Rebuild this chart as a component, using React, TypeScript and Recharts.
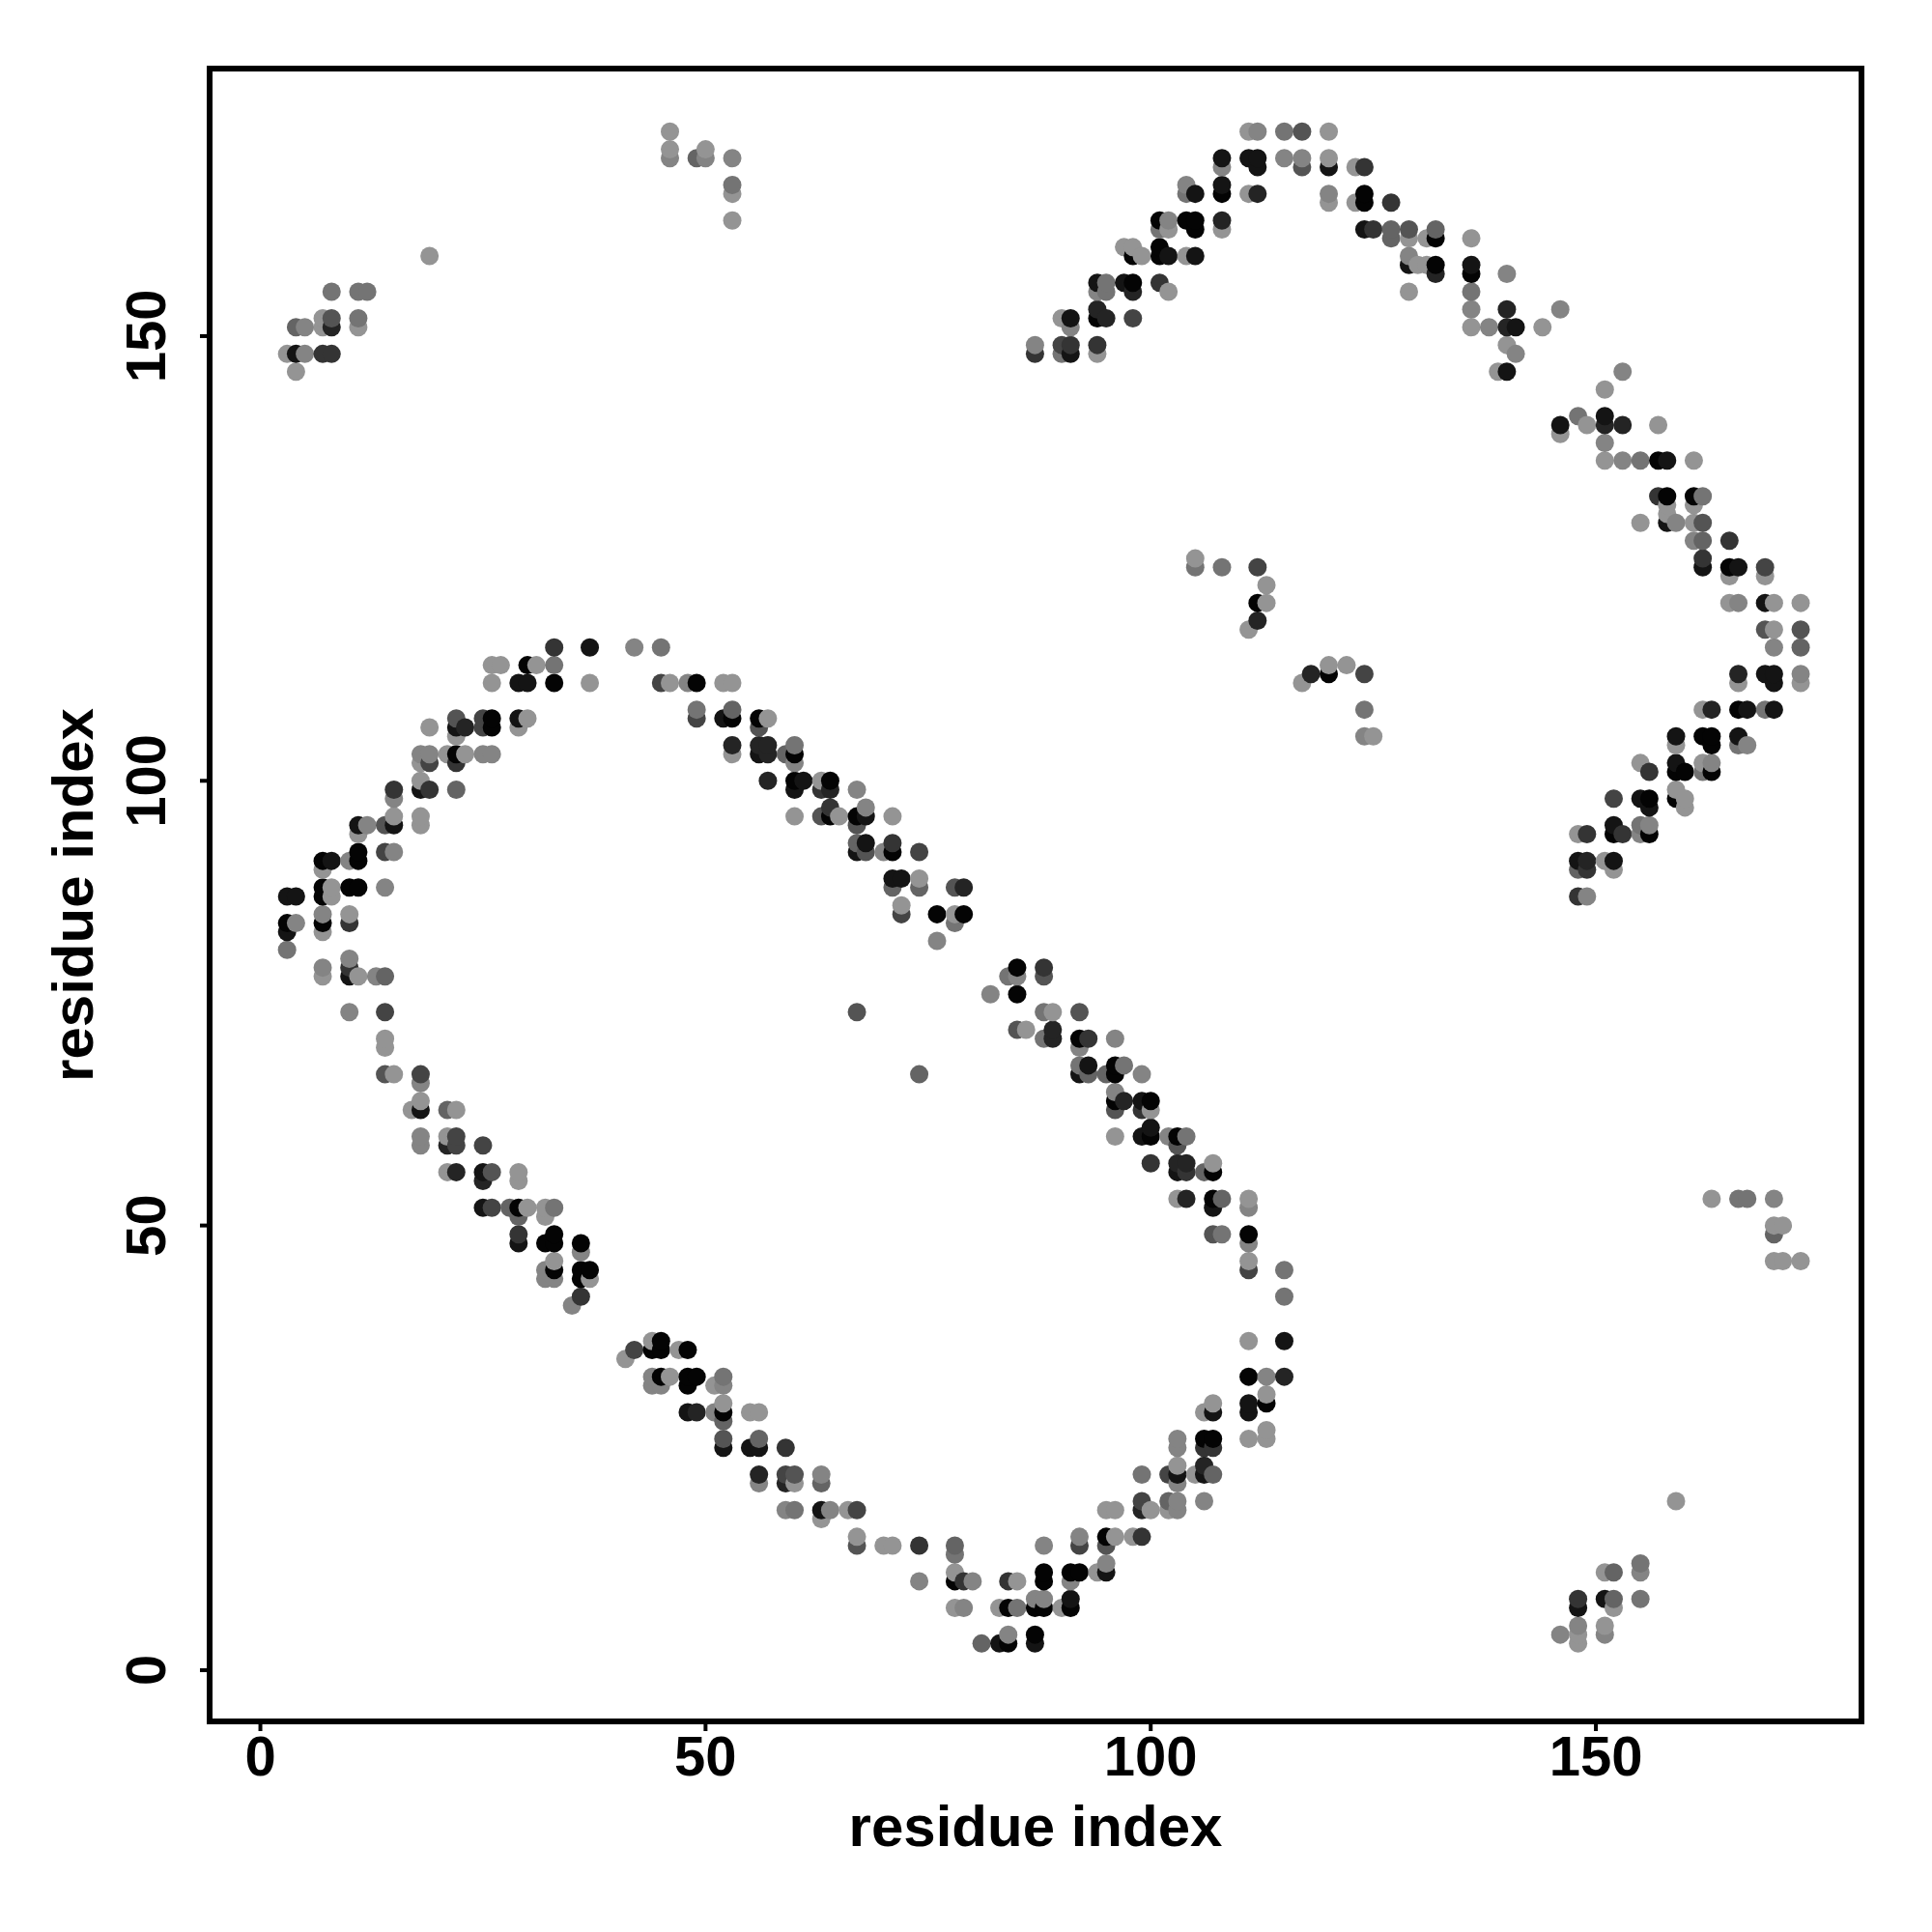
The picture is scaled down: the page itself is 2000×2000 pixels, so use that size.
import { ScatterChart, Scatter, XAxis, YAxis, ReferenceArea } from 'recharts';

// residue contacts as [i, j, score], score 0 (weak) to 9 (strong)
type Contact = [number, number, number];

const axisTicks = [0, 50, 100, 150];
const xDomain = [-5.7, 179.83];
const yDomain = [-5.76, 180.08];

const topLeftArc: Contact[] = [
  [33,115,6],[37,115,8],[26,113,0],[27,113,0],[30,113,9],[31,113,0],[33,113,2],
  [26,111,0],[29,111,8],[30,111,8],[33,111,9],[37,111,0],
  [22,107,4],[25,107,5],[26,107,9],[29,107,8],[30,107,0],
  [19,106,0],[22,106,8],[23,106,7],[25,106,5],[26,106,9],[29,106,0],[22,105,0],
  [18,103,1],[19,103,1],[21,103,0],[22,103,9],[23,103,0],[25,103,1],[26,103,1],
  [18,102,0],[19,102,5],[22,102,6],[18,100,0],[18,99,8],[19,99,6],[22,99,3],
  [15,99,6],[15,98,1],[15,96,0],[18,96,0],[11,95,8],[12,95,1],[14,95,4],[15,95,8],[18,95,0],
  [11,94,0],[11,92,9],[14,92,5],[15,92,1],[7,91,9],[8,91,8],[10,91,1],[11,91,9],[7,90,0],
  [7,88,9],[8,88,0],[10,88,9],[11,88,9],[14,88,1],[3,87,8],[4,87,8],[7,87,9],[8,87,0],
  [7,85,1],[10,85,0],[3,84,9],[4,84,1],[7,84,9],[10,84,6],[3,83,8],[7,83,0],[3,81,2],
  [10,80,1],[7,79,1],[10,79,6],[7,78,0],[10,78,8],[11,78,0],[13,78,1],[14,78,3],
];

const topRightDiagonal: Contact[] = [
  [42,115,1],[45,115,2],[45,111,5],[46,111,0],[48,111,1],[49,111,9],[52,111,0],[53,111,0],
  [49,108,2],[53,108,3],[49,107,5],[52,107,8],[53,107,9],[56,107,9],[57,107,0],[56,106,4],
  [53,104,7],[56,104,7],[57,104,7],[60,104,2],[53,103,0],[56,103,8],[57,103,7],[59,103,3],[60,103,9],[60,102,1],
  [57,100,7],[60,100,9],[61,100,8],[63,100,0],[64,100,9],[60,99,8],[63,99,6],[64,99,7],[67,99,1],
  [64,97,6],[68,97,1],[60,96,0],[63,96,4],[64,96,9],[65,96,0],[67,96,9],[68,96,8],[71,96,0],[67,95,4],
  [67,93,3],[68,93,8],[71,93,6],[67,92,8],[68,92,4],[70,92,1],[71,92,9],[74,92,5],
  [71,89,8],[72,89,8],[74,89,0],[71,88,3],[74,88,3],[78,88,4],[79,88,7],[72,86,0],[72,85,5],
  [76,85,9],[78,85,0],[79,85,9],[78,84,2],[76,82,1],[67,74,4],[74,67,3],
];

const lowerRightDiagonal: Contact[] = [
  [85,79,9],[88,79,6],[84,78,2],[85,78,1],[88,78,4],[82,76,1],[85,76,9],
  [88,74,2],[89,74,0],[92,74,4],[85,72,4],[86,72,0],[89,72,7],[88,71,2],[89,71,7],[92,71,9],[93,71,6],[96,71,1],
  [92,70,1],[92,68,2],[93,68,8],[96,68,9],[97,68,2],[92,67,8],[93,67,3],[95,67,3],[96,67,9],[99,67,1],[96,65,1],
  [96,64,9],[97,64,7],[99,64,8],[100,64,9],[96,63,4],[99,63,6],[100,63,0],[100,61,8],
  [96,60,0],[99,60,8],[100,60,9],[102,60,1],[103,60,9],[104,60,2],[103,59,4],
  [100,57,6],[103,57,7],[104,57,7],[107,57,0],[103,56,8],[104,56,6],[106,56,3],[107,56,9],
  [103,53,0],[104,53,7],[107,53,9],[108,53,3],[111,53,0],[107,52,8],[111,52,1],
  [107,49,4],[108,49,2],[111,49,9],[111,48,1],[111,46,0],[111,45,5],[115,45,2],[115,42,2],
];

const lowerLeftDiagonal: Contact[] = [
  [10,74,1],[14,74,5],[14,71,0],[14,70,0],[14,67,4],[15,67,0],[18,67,5],[18,66,1],
  [18,64,0],[17,63,0],[18,63,8],[21,63,3],[22,63,0],[18,60,1],[21,60,0],[22,60,5],
  [18,59,1],[21,59,7],[22,59,5],[25,59,5],[21,56,0],[22,56,7],[25,56,8],[26,56,4],[29,56,0],[25,55,7],[29,55,0],
  [25,52,8],[26,52,5],[28,52,3],[29,52,9],[30,52,0],[32,52,0],[33,52,2],[29,51,3],[32,51,0],
  [29,49,6],[33,49,9],[29,48,8],[32,48,9],[33,48,9],[36,48,9],[36,47,1],[33,46,0],
  [32,45,1],[33,45,9],[36,45,9],[37,45,9],[32,44,1],[33,44,1],[36,44,9],[37,44,0],[36,42,6],[35,41,1],
];

const bottomLeftDiagonal: Contact[] = [
  [42,36,5],[41,35,0],[44,37,0],[45,37,9],[44,36,9],[45,36,9],[47,36,0],[48,36,9],
  [44,33,1],[45,33,9],[46,33,0],[48,33,9],[49,33,9],[52,33,2],[44,32,1],[45,32,1],[48,32,9],[51,32,0],[52,32,1],
  [52,30,0],[48,29,8],[49,29,7],[51,29,1],[52,29,9],[55,29,0],[56,29,0],[52,28,3],
  [52,26,4],[56,26,3],[52,25,8],[55,25,8],[56,25,8],[59,25,6],[56,22,7],[59,22,5],[60,22,4],[63,22,1],
  [56,21,1],[59,21,7],[60,21,0],[63,21,3],[59,18,1],[60,18,2],[63,18,8],[64,18,1],[66,18,0],[67,18,5],[63,17,0],
  [67,15,0],[67,14,4],[70,14,0],[71,14,0],[74,14,6],[78,14,3],[78,13,2],[78,11,0],[74,10,1],[78,10,9],[79,10,6],
  [78,7,0],[79,7,1],
];

const bottomRightArc: Contact[] = [
  [111,37,0],[115,37,8],[111,33,9],[113,33,1],[115,33,7],[113,31,0],[111,30,8],[113,30,9],[107,30,0],
  [111,29,8],[107,29,8],[106,29,0],[113,27,0],[111,26,0],[113,26,0],[103,26,1],[103,25,1],[106,26,9],[107,26,9],
  [106,25,6],[107,25,6],[103,23,0],[106,23,7],[99,22,2],[102,22,5],[103,22,8],[105,22,0],[106,22,8],[107,22,3],
  [103,21,1],[99,19,5],[102,19,3],[103,19,1],[106,19,1],[95,18,0],[96,18,0],[99,18,7],[100,18,0],[102,18,0],[103,18,1],
  [92,15,1],[95,15,9],[96,15,0],[98,15,0],[99,15,6],[88,14,1],[92,14,5],[95,14,4],[95,12,1],
  [88,11,9],[91,11,9],[92,11,9],[94,11,0],[95,11,8],[84,10,6],[85,10,0],[88,10,9],[91,10,1],[80,10,1],
  [87,8,1],[88,8,1],[91,8,8],[83,7,0],[84,7,9],[85,7,2],[87,7,9],[88,7,9],[90,7,0],[91,7,9],
  [84,4,1],[87,4,9],[81,3,3],[83,3,8],[84,3,9],[87,3,8],
];

const topPeakArc: Contact[] = [
  [111,173,0],[112,173,1],[115,173,2],[117,173,4],[120,173,0],
  [108,170,8],[111,170,8],[112,170,8],[115,170,1],[117,170,1],[120,170,0],
  [108,169,1],[112,169,8],[117,169,4],[120,169,8],[123,169,0],[124,169,6],
  [104,167,1],[108,167,8],[104,166,2],[105,166,8],[108,166,9],[111,166,0],[112,166,7],[120,166,1],[124,166,9],
  [120,165,0],[123,165,0],[124,165,9],[127,165,6],
  [101,163,9],[102,163,1],[104,163,9],[105,163,9],[108,163,7],[101,162,2],[102,162,0],[105,162,9],[108,162,0],
  [97,160,0],[98,160,0],[101,160,9],[98,159,9],[99,159,0],[101,159,9],[102,159,8],[104,159,0],[105,159,8],
  [94,156,8],[95,156,2],[97,156,8],[98,156,9],[101,156,6],[94,155,1],[95,155,2],[98,155,7],[102,155,0],
  [94,153,7],[90,152,0],[91,152,8],[94,152,9],[95,152,7],[98,152,5],[91,151,1],
  [87,149,1],[90,149,5],[91,149,6],[94,149,6],[87,148,6],[90,148,2],[91,148,8],[94,148,0],
];

const rightShoulderArc: Contact[] = [
  [124,162,8],[125,162,6],[127,162,3],[129,162,4],[132,162,3],[127,161,3],[129,161,0],[131,161,0],[132,161,9],[136,161,0],
  [129,159,1],[129,158,8],[130,158,0],[131,158,0],[132,158,9],[136,158,8],[132,157,7],[136,157,9],[140,157,1],
  [129,155,0],[136,155,2],[136,153,1],[140,153,7],[146,153,1],[136,151,0],[138,151,1],[140,151,7],[141,151,8],[144,151,0],
  [140,149,0],[141,148,1],[139,146,0],[140,146,8],[153,146,1],[151,144,0],
  [148,141,2],[151,141,8],[146,140,8],[149,140,0],[151,140,7],[153,140,7],[157,140,0],[146,139,0],[151,138,1],
  [151,136,0],[153,136,1],[155,136,2],[157,136,9],[158,136,8],[161,136,0],
  [157,132,6],[158,132,9],[161,132,9],[162,132,2],[158,131,0],[161,131,0],[158,130,0],
  [155,129,0],[158,129,8],[159,129,1],[161,129,0],[162,129,4],[161,127,1],[162,127,3],[165,127,6],[162,125,6],
  [162,124,8],[165,124,9],[166,124,8],[169,124,5],[165,123,0],[169,123,0],
  [165,120,0],[166,120,1],[169,120,8],[170,120,0],[173,120,0],[169,117,4],[170,117,0],[173,117,4],[170,115,1],[173,115,3],
  [166,112,7],[169,112,8],[170,112,8],[173,112,1],[166,111,0],[170,111,8],[173,111,0],
];

const rightLowerArc: Contact[] = [
  [162,108,0],[163,108,7],[166,108,9],[167,108,8],[169,108,2],[170,108,8],
  [159,105,8],[162,105,9],[163,105,9],[166,105,8],[159,104,0],[163,104,9],[166,104,2],[167,104,1],
  [155,102,0],[159,102,8],[162,102,0],[163,102,1],[156,101,6],[159,101,9],[160,101,9],[162,101,2],[163,101,9],
  [159,99,0],[152,98,5],[155,98,8],[156,98,9],[159,98,9],[160,98,0],[156,97,8],[160,97,0],
  [152,95,8],[155,95,2],[156,95,1],[148,94,0],[149,94,6],[152,94,9],[153,94,6],[155,94,1],[156,94,9],
  [148,91,8],[149,91,7],[151,91,0],[152,91,8],[148,90,3],[149,90,6],[152,90,0],[148,87,6],[149,87,1],
];

const upperLeftPatch: Contact[] = [
  [3,148,0],[4,148,8],[5,148,1],[7,148,6],[8,148,6],[4,146,0],[4,151,3],[5,151,1],[7,151,0],[8,151,7],[11,151,0],
  [7,152,0],[8,152,4],[11,152,2],[8,155,2],[11,155,2],[12,155,2],[19,159,0],
  [46,173,0],[46,171,0],[46,170,1],[49,170,3],[50,170,1],[50,171,0],[53,170,1],[53,167,2],[53,166,0],[53,163,0],
];

const middlePatch: Contact[] = [
  [105,125,0],[105,124,2],[108,124,2],[112,124,5],[113,122,0],[112,120,9],[113,120,0],[112,118,7],[111,117,0],
  [118,112,7],[120,113,0],[120,112,9],[122,113,0],[124,112,5],[117,111,0],[124,108,2],[124,105,1],[125,105,0],
];

const lowerRightPatch: Contact[] = [
  [163,53,0],[166,53,2],[167,53,2],[170,53,1],[170,50,0],[171,50,0],[170,49,3],[170,46,0],[171,46,0],[173,46,0],
  [159,19,0],[146,4,1],[148,8,6],[148,7,8],[148,5,1],[148,4,0],[148,3,0],[151,11,0],[152,11,3],[151,8,8],[152,8,3],
  [152,7,0],[151,5,0],[151,4,1],[155,12,2],[155,11,1],[155,8,2],
];

const contacts = [
  ...topLeftArc, ...topRightDiagonal, ...lowerRightDiagonal, ...lowerLeftDiagonal, ...bottomLeftDiagonal,
  ...bottomRightArc, ...topPeakArc, ...rightShoulderArc, ...rightLowerArc, ...upperLeftPatch, ...middlePatch, ...lowerRightPatch,
]
  .sort((a, b) => a[0] - b[0] || a[1] - b[1])
  .map(([i, j, score]) => ({ i, j, score }));

const FONT = '"Liberation Sans", Arial, sans-serif';

const shade = (score: number) => {
  const g = 148 - 16 * score;
  return `rgb(${g},${g},${g})`;
};

const Dot = ({ cx, cy, payload }: any) => <circle cx={cx} cy={cy} r={9.5} fill={shade(payload.score)} />;

const XTick = ({ x, y, payload }: any) => (
  <text x={x} y={y + 44} textAnchor="middle" fontFamily={FONT} fontWeight="bold" fontSize={58} fill="#000">
    {payload.value}
  </text>
);

const YTick = ({ x, y, payload }: any) => (
  <text
    transform={`translate(${x - 34},${y}) rotate(-90)`}
    textAnchor="middle"
    fontFamily={FONT}
    fontWeight="bold"
    fontSize={58}
    fill="#000"
  >
    {payload.value}
  </text>
);

export default function App() {
  return (
    <div style={{ position: 'absolute', left: 0, top: 0, width: 2000, height: 2000, background: '#fff' }}>
      <ScatterChart width={2000} height={2000} margin={{ top: 71, right: 73, bottom: 0, left: 0 }}>
        <XAxis
          type="number"
          dataKey="i"
          domain={xDomain}
          ticks={axisTicks}
          allowDataOverflow
          height={218}
          axisLine={false}
          tickLine={{ stroke: '#000', strokeWidth: 4 }}
          tickSize={10}
          tick={<XTick />}
          interval={0}
          label={{ value: 'residue index', position: 'insideBottom', offset: 89, fontFamily: FONT, fontWeight: 'bold', fontSize: 60, fill: '#000' }}
        />
        <YAxis
          type="number"
          dataKey="j"
          domain={yDomain}
          ticks={axisTicks}
          allowDataOverflow
          width={217}
          axisLine={false}
          tickLine={{ stroke: '#000', strokeWidth: 4 }}
          tickSize={10}
          tick={<YTick />}
          interval={0}
          label={{ value: 'residue index', angle: -90, position: 'insideLeft', offset: 75, fontFamily: FONT, fontWeight: 'bold', fontSize: 60, fill: '#000', style: { textAnchor: 'middle' } }}
        />
        <ReferenceArea x1={xDomain[0]} x2={xDomain[1]} y1={yDomain[0]} y2={yDomain[1]} fill="none" fillOpacity={0} stroke="#000" strokeWidth={6} ifOverflow="visible" />
        <Scatter data={contacts} shape={<Dot />} isAnimationActive={false} />
      </ScatterChart>
    </div>
  );
}
